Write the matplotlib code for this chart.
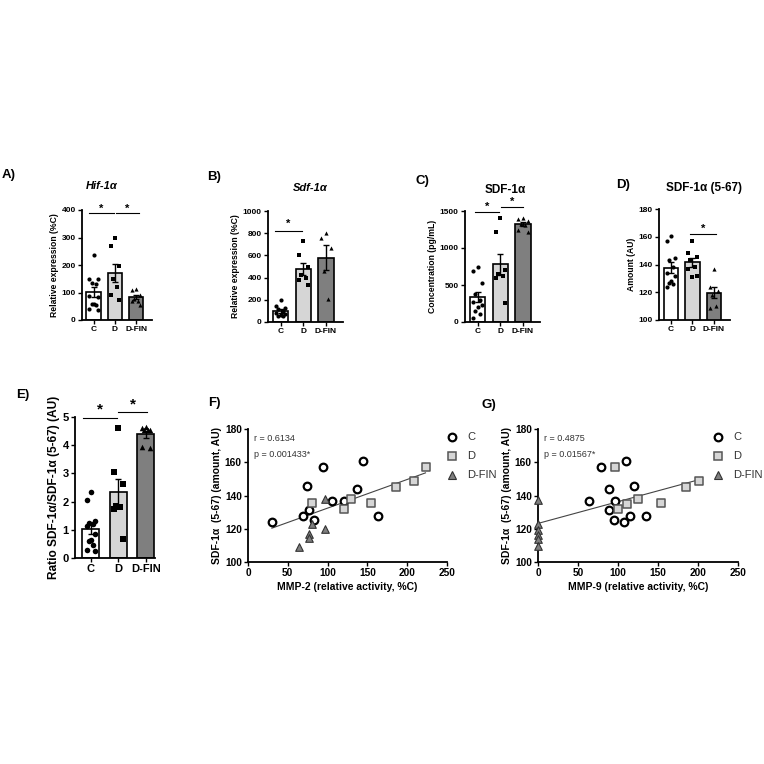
import numpy as np
import matplotlib
matplotlib.use("Agg")
import matplotlib.pyplot as plt

plt.rcParams['font.family'] = ['Liberation Sans', 'DejaVu Sans']

groups = ["C", "D", "D-FIN"]

# Panel A: Hif-1a relative expression (%C)
hif_C = [236, 150, 148, 135, 130, 88, 85, 60, 58, 55, 40, 35]
hif_D = [298, 270, 195, 150, 120, 90, 72]
hif_DFIN = [114, 109, 90, 75, 70, 68, 55]

# Panel B: Sdf-1a relative expression (%C)
sdf_C = [200, 145, 130, 115, 95, 80, 70, 60, 55, 50]
sdf_D = [727, 600, 495, 420, 400, 375, 330]
sdf_DFIN = [802, 760, 670, 459, 210]

# Panel C: SDF-1a concentration (pg/mL)
conc_C = [745, 690, 530, 380, 300, 270, 230, 200, 150, 110, 60]
conc_D = [1400, 1210, 700, 650, 620, 600, 260]
conc_DFIN = [1400, 1390, 1370, 1330, 1310, 1250, 1220]

# Panel D: SDF-1a (5-67) amount (AU)
amt_C = [160.5, 157, 145, 143.5, 138, 134, 132, 128, 127, 126, 124]
amt_D = [157, 148.5, 145.5, 143, 138, 137, 132, 131]
amt_DFIN = [137, 123.5, 121, 118, 110, 109]

# Panel E: ratio
ratio_C = [2.35, 2.05, 1.3, 1.25, 1.2, 1.15, 0.85, 0.65, 0.6, 0.45, 0.3, 0.25]
ratio_D = [4.62, 3.05, 2.62, 1.85, 1.8, 1.75, 0.68]
ratio_DFIN = [4.55, 4.55, 4.55, 4.6, 4.65, 3.95, 3.9]

# Panel F: MMP-2 vs SDF-1a (5-67)
f_C_x = [30, 69, 77, 74, 82.5, 94, 105.5, 121, 136.5, 145, 163]
f_C_y = [124.3, 127.7, 131.3, 145.7, 125.3, 157, 136.7, 136.7, 143.7, 160.5, 127.7]
f_D_x = [81, 121, 130, 154.5, 186, 209, 223]
f_D_y = [135.3, 132.1, 138.1, 135.5, 145, 148.5, 157]
f_DFIN_x = [64, 76.6, 77, 81, 97, 96.6]
f_DFIN_y = [109.2, 116.8, 114.2, 122.8, 137.7, 119.8]

# Panel G: MMP-9 vs SDF-1a (5-67)
g_C_x = [63.75, 79.2, 88.3, 88.75, 95.8, 95, 108, 110.4, 114.6, 120, 135.4]
g_C_y = [136.7, 157, 143.7, 131.3, 136.7, 125.3, 124.3, 160.5, 127.7, 145.7, 127.7]
g_D_x = [95.8, 100.4, 111.25, 125, 154.2, 184.6, 201.25]
g_D_y = [157, 132.1, 134.9, 138.1, 135.5, 145.1, 148.5]
g_DFIN_x = [0, 0, 0, 0, 0, 0]
g_DFIN_y = [137.5, 123, 119.5, 116.5, 114, 109.5]

bar_colors = ["white", "#d6d6d6", "#7f7f7f"]
markers = ["o", "s", "^"]

fig = plt.figure(figsize=(7.64, 7.64), dpi=100)
W = H = 764.0

def ax_px(x0, x1, y0, y1):
    return fig.add_axes([x0 / W, 1 - y1 / H, (x1 - x0) / W, (y1 - y0) / H])

def style(ax, fs):
    for s in ["top", "right"]:
        ax.spines[s].set_visible(False)
    for s in ["left", "bottom"]:
        ax.spines[s].set_linewidth(1.3)
    ax.tick_params(width=1.0, length=3, labelsize=fs, pad=1.5)
    for lab in ax.get_xticklabels() + ax.get_yticklabels():
        lab.set_fontweight("bold")

def offsets(n, spread):
    base = [0, -1, 1, -0.5, 0.5, -1, 1, 0, -0.5, 0.5, -1, 1]
    return np.array(base[:n]) * spread

def bar_panel(ax, data, ylim, yticks, ylabel, sigs, fs=6, lfs=6.2, ms=3.0,
              xlim=(-0.55, 2.75), star_fs=8, spread=0.2, width=0.68):
    x = np.arange(3)
    means = [np.mean(d) for d in data]
    sems = [np.std(d, ddof=1) / np.sqrt(len(d)) for d in data]
    ax.bar(x, means, width=width, color=bar_colors, edgecolor="black", linewidth=1.2, zorder=1)
    for i, d in enumerate(data):
        order = np.argsort(d)[::-1]
        xs = np.empty(len(d))
        xs[order] = i + offsets(len(d), spread)
        ax.scatter(xs, d, marker=markers[i], s=ms ** 2, color="black", zorder=3, linewidths=0)
    ax.errorbar(x, means, yerr=sems, fmt="none", ecolor="black", elinewidth=1.0, capsize=2.2, capthick=1.0, zorder=4)
    ax.set_xlim(*xlim)
    ax.set_ylim(*ylim)
    ax.set_yticks(yticks)
    ax.set_xticks(x)
    ax.set_xticklabels(groups)
    ax.set_ylabel(ylabel, fontsize=lfs, fontweight="bold", labelpad=2)
    style(ax, fs)
    for (a, b, y, ys) in sigs:
        ax.plot([a, b], [y, y], color="black", lw=0.8, clip_on=False)
        ax.text((a + b) / 2, ys, "*", ha="center", va="center", fontsize=star_fs, fontweight="bold", clip_on=False)

# Panel A
axA = ax_px(82, 152, 210, 320)
bar_panel(axA, [hif_C, hif_D, hif_DFIN], (0, 400), [0, 100, 200, 300, 400],
          "Relative expression (%C)", [(-0.2, 0.95, 388, 405), (1.05, 2.15, 388, 405)])
# Panel B
axB = ax_px(268, 343, 211, 322)
bar_panel(axB, [sdf_C, sdf_D, sdf_DFIN], (0, 1000), [0, 200, 400, 600, 800, 1000],
          "Relative expression (%C)", [(-0.25, 0.95, 820, 885)])
# Panel C
axC = ax_px(465, 540, 211, 322)
bar_panel(axC, [conc_C, conc_D, conc_DFIN], (0, 1500), [0, 500, 1000, 1500],
          "Concentration (pg/mL)", [(-0.1, 0.95, 1486, 1560), (1.05, 2.0, 1553, 1620)])
# Panel D
axD = ax_px(659, 730, 209, 320)
bar_panel(axD, [amt_C, amt_D, amt_DFIN], (100, 180), [100, 120, 140, 160, 180],
          "Amount (AU)", [(0.9, 2.1, 162.2, 166)])
# Panel E
axE = ax_px(75, 155, 417, 558)
bar_panel(axE, [ratio_C, ratio_D, ratio_DFIN], (0, 5), [0, 1, 2, 3, 4, 5],
          "Ratio SDF-1α/SDF-1α (5-67) (AU)", [(-0.3, 0.95, 4.97, 5.28), (1.0, 2.05, 5.17, 5.45)],
          fs=8, lfs=8.6, ms=4.0, xlim=(-0.58, 2.33), star_fs=11, spread=0.15, width=0.62)

# Titles and panel letters
fig.text(102 / W, 1 - 186 / H, "Hif-1α", ha="center", va="center", fontsize=8, fontweight="bold", style="italic")
fig.text(310 / W, 1 - 188 / H, "Sdf-1α", ha="center", va="center", fontsize=8, fontweight="bold", style="italic")
fig.text(505 / W, 1 - 190 / H, "SDF-1α", ha="center", va="center", fontsize=8.5, fontweight="bold")
fig.text(704 / W, 1 - 188 / H, "SDF-1α (5-67)", ha="center", va="center", fontsize=8.5, fontweight="bold")
for lab, xp, yp in [("A)", 2, 175), ("B)", 207, 177), ("C)", 416, 181), ("D)", 616, 185),
                    ("E)", 16, 395), ("F)", 208, 403), ("G)", 482, 405)]:
    fig.text(xp / W, 1 - yp / H, lab, ha="left", va="center", fontsize=9.5, fontweight="bold")

def scatter_panel(ax, sets, xlabel, rtxt, ptxt, legend_x):
    allx, ally = [], []
    styles = [dict(marker="o", facecolor="white", edgecolor="black", linewidths=1.6, s=30),
              dict(marker="s", facecolor="#d6d6d6", edgecolor="#555555", linewidths=1.1, s=28),
              dict(marker="^", facecolor="#7f7f7f", edgecolor="#333333", linewidths=0.8, s=30)]
    for (xs, ys), st in zip(sets, styles):
        ax.scatter(xs, ys, zorder=3, clip_on=False, **st)
        allx += list(xs)
        ally += list(ys)
    allx = np.array(allx); ally = np.array(ally)
    k, b = np.polyfit(allx, ally, 1)
    xx = np.array([allx.min(), allx.max()])
    ax.plot(xx, k * xx + b, color="#444444", lw=0.8, zorder=2)
    ax.set_xlim(0, 250)
    ax.set_ylim(100, 180)
    ax.set_xticks([0, 50, 100, 150, 200, 250])
    ax.set_yticks([100, 120, 140, 160, 180])
    ax.set_xlabel(xlabel, fontsize=7.5, fontweight="bold", labelpad=3)
    ax.set_ylabel("SDF-1α  (5-67) (amount, AU)", fontsize=7.5, fontweight="bold", labelpad=2)
    style(ax, 7.3)
    ax.text(0.03, 0.93, rtxt, transform=ax.transAxes, fontsize=6.5, color="#333333", va="center")
    ax.text(0.03, 0.81, ptxt, transform=ax.transAxes, fontsize=6.5, color="#333333", va="center")
    # legend
    for i, (st, name) in enumerate(zip(styles, groups)):
        yp = 437 + 19 * i
        fig.text((legend_x + 15) / W, 1 - yp / H, name, fontsize=8, color="#333333", va="center")
        lax_y = 1 - yp / H
        fig.add_artist(plt.Line2D([legend_x / W], [lax_y], marker=st["marker"], markersize=5.5,
                                  markerfacecolor=st["facecolor"], markeredgecolor=st["edgecolor"],
                                  markeredgewidth=st["linewidths"], linestyle="none", transform=fig.transFigure))

axF = ax_px(248, 447, 429, 562)
scatter_panel(axF, [(f_C_x, f_C_y), (f_D_x, f_D_y), (f_DFIN_x, f_DFIN_y)],
              "MMP-2 (relative activity, %C)", "r = 0.6134", "p = 0.001433*", 452)
axG = ax_px(538, 738, 429, 562)
scatter_panel(axG, [(g_C_x, g_C_y), (g_D_x, g_D_y), (g_DFIN_x, g_DFIN_y)],
              "MMP-9 (relative activity, %C)", "r = 0.4875", "p = 0.01567*", 718)

fig.savefig("out.png", dpi=100, facecolor="white")
